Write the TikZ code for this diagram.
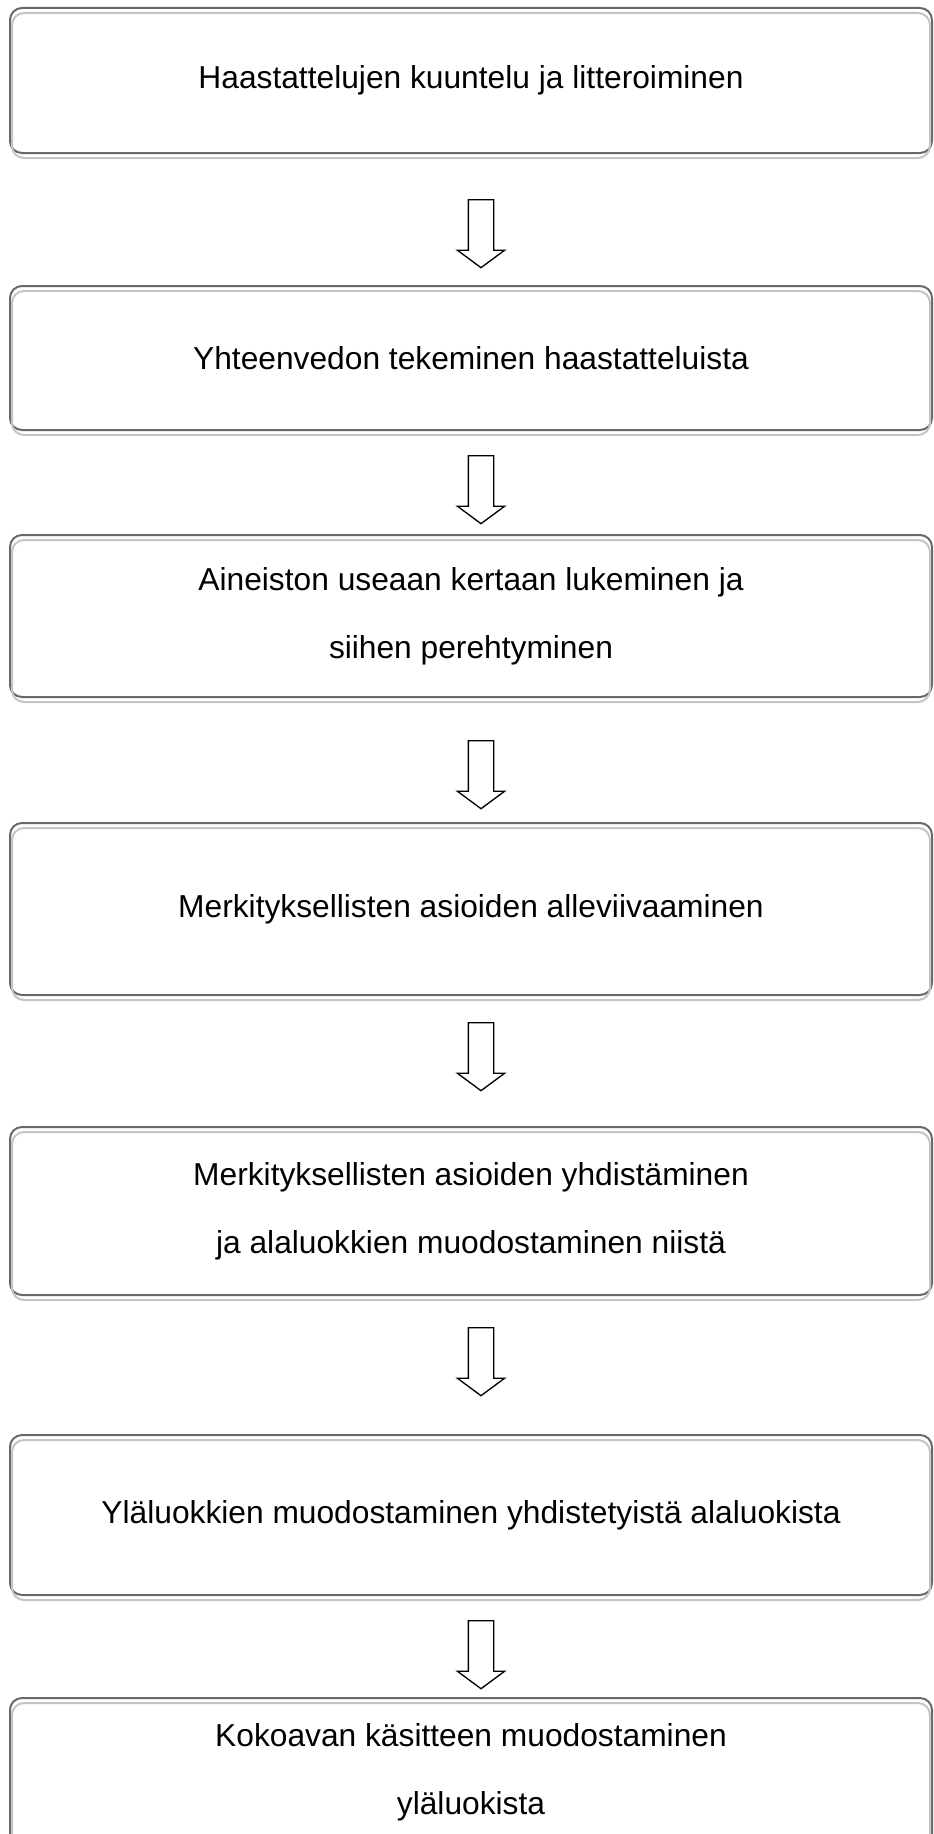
\documentclass[tikz,border=0pt]{standalone}
\usepackage{fontspec}
\setmainfont{Liberation Sans}
\usetikzlibrary{shapes.arrows, calc}
\definecolor{boxgray}{RGB}{105,105,105}
\definecolor{bevelgray}{RGB}{196,196,196}

\tikzset{
  stepbox/.style={draw=boxgray, line width=1.5pt, rounded corners=9pt, fill=white,
    minimum width=691.5pt, inner sep=0pt, align=center,
    font=\fontsize{23.8}{51}\selectfont},
  bevel/.style={draw=bevelgray, line width=1.5pt, rounded corners=9pt},
  downarrow/.style={single arrow, draw=black, line width=1pt, fill=white,
    shape border rotate=270, minimum width=34.5pt, minimum height=51pt,
    single arrow head extend=8.25pt, single arrow tip angle=107, inner sep=9pt},
}

\begin{document}
\begin{tikzpicture}[x=0.75pt, y=-0.75pt]
  \useasboundingbox (0,0) rectangle (933,1834);
  % Steps
  \node[stepbox, minimum height=108.75pt] (b1) at (471,80.5) {Haastattelujen kuuntelu ja litteroiminen};
  \node[stepbox, minimum height=108pt] (b2) at (471,358) {Yhteenvedon tekeminen haastatteluista};
  \node[stepbox, minimum height=121.5pt] (b3) at (471,616) {Aineiston useaan kertaan lukeminen ja\\siihen perehtyminen};
  \node[stepbox, minimum height=129pt] (b4) at (471,909) {Merkityksellisten asioiden alleviivaaminen};
  \node[stepbox, minimum height=126pt] (b5) at (471,1211) {Merkityksellisten asioiden yhdistäminen\\ja alaluokkien muodostaminen niistä};
  \node[stepbox, minimum height=120pt] (b6) at (471,1515) {Yläluokkien muodostaminen yhdistetyistä alaluokista};
  \node[stepbox, minimum height=111pt] (b7) at (471,1772) {Kokoavan käsitteen muodostaminen\\yläluokista};
  % Light edge under each box
  \foreach \b in {b1,b2,b3,b4,b5,b6,b7}
    \draw[bevel] ($(\b.north west)+(3,6)$) rectangle ($(\b.south east)+(-3,4)$);
  % Arrows between the steps
  \node[downarrow] (a1) at (481,229) {};
  \node[downarrow] (a2) at (481,485) {};
  \node[downarrow] (a3) at (481,770) {};
  \node[downarrow] (a4) at (481,1052) {};
  \node[downarrow] (a5) at (481,1357) {};
  \node[downarrow] (a6) at (481,1650) {};
\end{tikzpicture}
\end{document}
